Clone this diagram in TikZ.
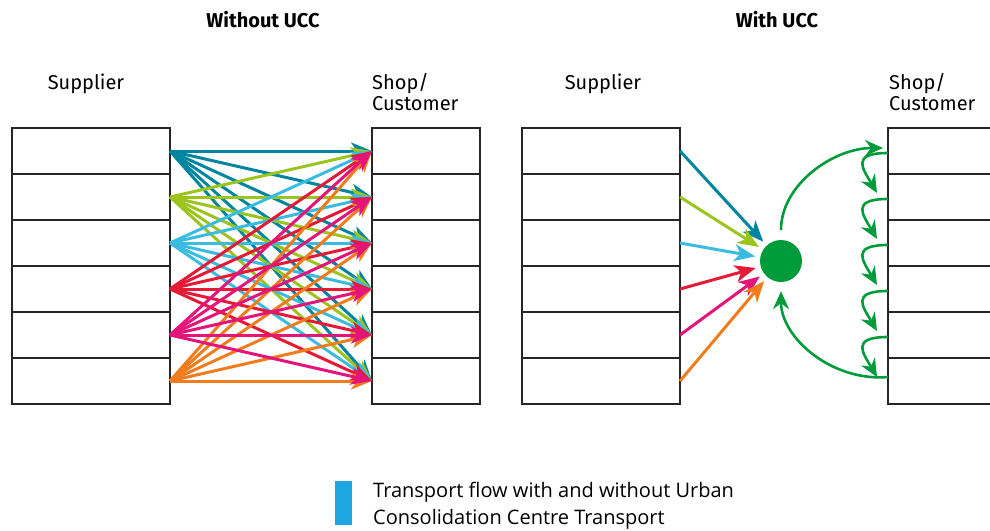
\documentclass[tikz,border=0pt]{standalone}
\usepackage{fontspec}
\setmainfont{Fira Sans}
\newfontfamily\legendfont{Open Sans}
\usetikzlibrary{positioning,arrows.meta}
\definecolor{uccteal}{RGB}{0,133,161}
\definecolor{ucclime}{RGB}{155,196,30}
\definecolor{uccsky}{RGB}{58,188,226}
\definecolor{uccred}{RGB}{228,26,55}
\definecolor{uccpink}{RGB}{228,20,122}
\definecolor{uccorange}{RGB}{240,124,30}
\definecolor{uccgreen}{RGB}{0,155,58}
\definecolor{legendblue}{RGB}{30,167,225}

\begin{document}
\begin{tikzpicture}[x=1pt,y=-1pt,
    slot/.style={draw=black!85,line width=1.6pt,minimum height=46pt,inner sep=0pt,outer sep=0pt},
    supplier/.style={slot,minimum width=158pt},
    shop/.style={slot,minimum width=108pt},
    label/.style={font=\fontsize{20}{21}\selectfont,inner sep=0pt},
    heading/.style={font=\bfseries\fontsize{20}{22}\selectfont,inner sep=0pt},
    flow/.style={line width=3pt,-{Stealth[length=21pt,width=17pt,inset=6pt]}},
    hop/.style={draw=uccgreen,line width=2.6pt,-{Stealth[length=18pt,width=16pt,inset=6pt]}}]
    \clip (0,0) rectangle (990,530);

    \node[heading] (nohub) at (263,20) {Without UCC};
    \node[heading] (withhub) at (777,20) {With UCC};
    \node[label,anchor=base] (suplabel) at (86,89) {Supplier};
    \node[label,anchor=north west,align=left] (shoplabel) at (372,73) {Shop/\\Customer};
    \node[label,anchor=base] (rsuplabel) at (603,89) {Supplier};
    \node[label,anchor=north west,align=left] (rshoplabel) at (889,73) {Shop/\\Customer};

    % without UCC
    \node[supplier] (s1) at (91,151) {};
    \node[shop] (c1) at (426,151) {};
    \foreach \i [count=\j from 2] in {1,...,5} {
      \node[supplier,below=0pt of s\i] (s\j) {};
      \node[shop,below=0pt of c\i] (c\j) {};
    }
    \foreach \i/\hue in {1/uccteal,2/ucclime,3/uccsky,4/uccred,6/uccorange,5/uccpink}
      \foreach \j in {1,...,6}
        \draw[flow,\hue] (s\i.east) -- (c\j.west);

    % with UCC
    \node[supplier] (rs1) at (601,151) {};
    \node[slot,minimum width=160pt] (rc1) at (968,151) {};
    \foreach \i [count=\j from 2] in {1,...,5} {
      \node[supplier,below=0pt of rs\i] (rs\j) {};
      \node[slot,minimum width=160pt,below=0pt of rc\i] (rc\j) {};
    }
    \node[circle,fill=uccgreen,minimum size=42pt,inner sep=0pt] (ucc) at (781,261) {};
    \foreach \i/\hue in {1/uccteal,2/ucclime,3/uccsky,4/uccred,5/uccpink,6/uccorange}
      \draw[flow,\hue,shorten >=5pt] (rs\i.east) -- (ucc);
    \draw[hop,shorten <=10pt,shorten >=5pt] (ucc.north) to[out=90,in=180] ([yshift=3pt]rc1.west);
    \draw[hop,shorten >=9pt] ([yshift=4pt]rc6.west) to[out=185,in=-90] (ucc.south);
    \foreach \i [count=\j from 2] in {1,...,5}
      \draw[hop] ([yshift=-2pt]rc\i.west) .. controls +(-38,0) and +(-14,-24) .. ([shift={(-11pt,4pt)}]rc\j.west);

    % legend
    \fill[legendblue] (335,481) rectangle (352,525);
    \node[anchor=north west,align=left,inner sep=0pt,font=\legendfont\fontsize{20}{27}\selectfont] (caption) at (373,482)
      {Transport flow with and without Urban\\Consolidation Centre Transport};
\end{tikzpicture}
\end{document}
